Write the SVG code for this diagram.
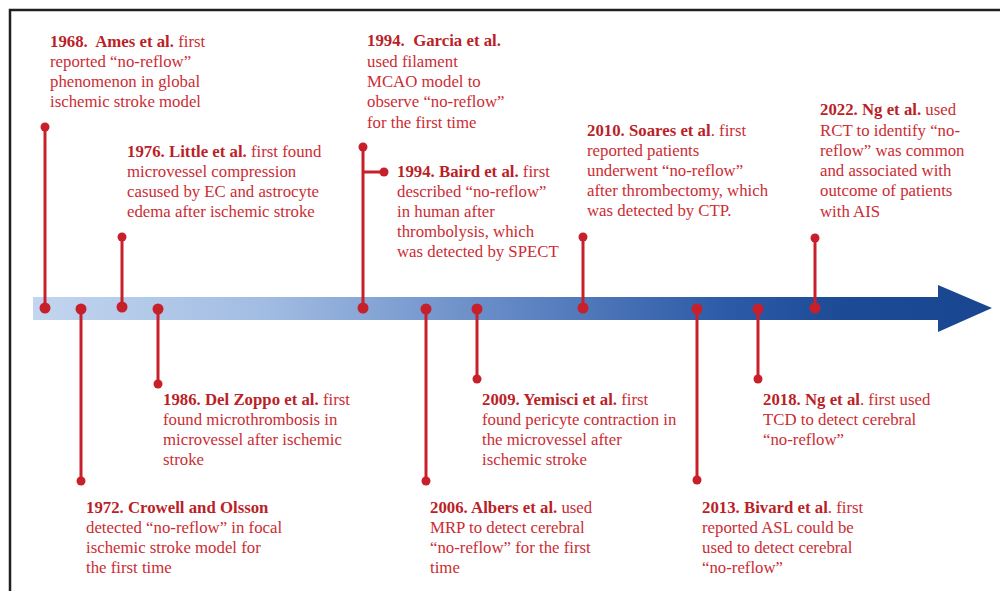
<svg xmlns="http://www.w3.org/2000/svg" width="1000" height="591" viewBox="0 0 1000 591">
<defs>
<linearGradient id="barGrad" x1="33" y1="0" x2="992" y2="0" gradientUnits="userSpaceOnUse">
<stop offset="0" stop-color="#c3d6ef"/>
<stop offset="0.25" stop-color="#a0bbe2"/>
<stop offset="0.5" stop-color="#6287c4"/>
<stop offset="0.72" stop-color="#2d5ba7"/>
<stop offset="0.85" stop-color="#1c4a95"/>
<stop offset="1" stop-color="#1a4690"/>
</linearGradient>
<style>
text{font-family:"Liberation Serif","Times New Roman",serif;font-size:16.8px;fill:#cc2c33}
.b{font-weight:bold;fill:#bb1f28}
.ln{stroke:#c8202b;stroke-width:3;fill:none}
.dot{fill:#c8202b}
</style>
</defs>
<rect x="10" y="10" width="1010" height="610" fill="none" stroke="#231f20" stroke-width="2.5"/>
<g id="timeline">
<path d="M33,297 H938 V285 L992,308 L938,332 V320 H33 Z" fill="url(#barGrad)"/>
</g>
<g id="connectors">
<path class="ln" d="M45,308 V127"/>
<path class="ln" d="M81,308 V481"/>
<path class="ln" d="M122,308 V237"/>
<path class="ln" d="M158,308 V384"/>
<path class="ln" d="M363,308 V147 M363,172 H384"/>
<path class="ln" d="M426,308 V481"/>
<path class="ln" d="M477,308 V379"/>
<path class="ln" d="M583,308 V237"/>
<path class="ln" d="M697,308 V480"/>
<path class="ln" d="M758,308 V379"/>
<path class="ln" d="M815,308 V238"/>
<g class="dot">
<circle cx="45" cy="308" r="5.5"/><circle cx="45" cy="127" r="4.5"/>
<circle cx="81" cy="309" r="5.5"/><circle cx="81" cy="481" r="4.5"/>
<circle cx="122" cy="307" r="5.5"/><circle cx="122" cy="237" r="4.5"/>
<circle cx="158" cy="309" r="5.5"/><circle cx="158" cy="384" r="4.5"/>
<circle cx="363" cy="308" r="5.5"/><circle cx="363" cy="147" r="4.5"/><circle cx="384" cy="172" r="4.5"/>
<circle cx="426" cy="309" r="5.5"/><circle cx="426" cy="481" r="4.5"/>
<circle cx="477" cy="309" r="5.5"/><circle cx="477" cy="379" r="4.5"/>
<circle cx="583" cy="308" r="5.5"/><circle cx="583" cy="237" r="4.5"/>
<circle cx="697" cy="309" r="5.5"/><circle cx="697" cy="480" r="4.5"/>
<circle cx="758" cy="309" r="5.5"/><circle cx="758" cy="379" r="4.5"/>
<circle cx="815" cy="308" r="5.5"/><circle cx="815" cy="238" r="4.5"/>
</g>
</g>
<g id="ev1968">
<text x="50" y="47"><tspan class="b" xml:space="preserve">1968.  Ames et al.</tspan> first</text>
<text x="50" y="67">reported “no-reflow”</text>
<text x="50" y="87">phenomenon in global</text>
<text x="50" y="107">ischemic stroke model</text>
</g>
<g id="ev1972">
<text x="86" y="513"><tspan class="b">1972. Crowell and Olsson</tspan></text>
<text x="86" y="533">detected “no-reflow” in focal</text>
<text x="86" y="553">ischemic stroke model for</text>
<text x="86" y="573">the first time</text>
</g>
<g id="ev1976">
<text x="127" y="157"><tspan class="b">1976. Little et al.</tspan> first found</text>
<text x="127" y="177">microvessel compression</text>
<text x="127" y="197">casused by EC and astrocyte</text>
<text x="127" y="217">edema after ischemic stroke</text>
</g>
<g id="ev1986">
<text x="163" y="405"><tspan class="b">1986. Del Zoppo et al.</tspan> first</text>
<text x="163" y="425">found microthrombosis in</text>
<text x="163" y="445">microvessel after ischemic</text>
<text x="163" y="465">stroke</text>
</g>
<g id="ev1994a">
<text x="367" y="46"><tspan class="b" xml:space="preserve">1994.  Garcia et al.</tspan></text>
<text x="367" y="67">used filament</text>
<text x="367" y="87">MCAO model to</text>
<text x="367" y="107">observe “no-reflow”</text>
<text x="367" y="128">for the first time</text>
</g>
<g id="ev1994b">
<text x="397" y="177"><tspan class="b">1994. Baird et al.</tspan> first</text>
<text x="397" y="197">described “no-reflow”</text>
<text x="397" y="217">in human after</text>
<text x="397" y="237">thrombolysis, which</text>
<text x="397" y="257">was detected by SPECT</text>
</g>
<g id="ev2006">
<text x="430" y="513"><tspan class="b">2006. Albers et al.</tspan> used</text>
<text x="430" y="533">MRP to detect cerebral</text>
<text x="430" y="553">“no-reflow” for the first</text>
<text x="430" y="573">time</text>
</g>
<g id="ev2009">
<text x="482" y="405"><tspan class="b">2009. Yemisci et al.</tspan> first</text>
<text x="482" y="425">found pericyte contraction in</text>
<text x="482" y="445">the microvessel after</text>
<text x="482" y="465">ischemic stroke</text>
</g>
<g id="ev2010">
<text x="587" y="136"><tspan class="b">2010. Soares et al</tspan>. first</text>
<text x="587" y="156">reported patients</text>
<text x="587" y="176">underwent “no-reflow”</text>
<text x="587" y="196">after thrombectomy, which</text>
<text x="587" y="216">was detected by CTP.</text>
</g>
<g id="ev2013">
<text x="702" y="513"><tspan class="b">2013. Bivard et al</tspan>. first</text>
<text x="702" y="533">reported ASL could be</text>
<text x="702" y="553">used to detect cerebral</text>
<text x="702" y="573">“no-reflow”</text>
</g>
<g id="ev2018">
<text x="763" y="405"><tspan class="b">2018. Ng et al</tspan>. first used</text>
<text x="763" y="425">TCD to detect cerebral</text>
<text x="763" y="445">“no-reflow”</text>
</g>
<g id="ev2022">
<text x="820" y="115"><tspan class="b">2022. Ng et al.</tspan> used</text>
<text x="820" y="136">RCT to identify “no-</text>
<text x="820" y="156">reflow” was common</text>
<text x="820" y="176">and associated with</text>
<text x="820" y="196">outcome of patients</text>
<text x="820" y="217">with AIS</text>
</g>
</svg>
